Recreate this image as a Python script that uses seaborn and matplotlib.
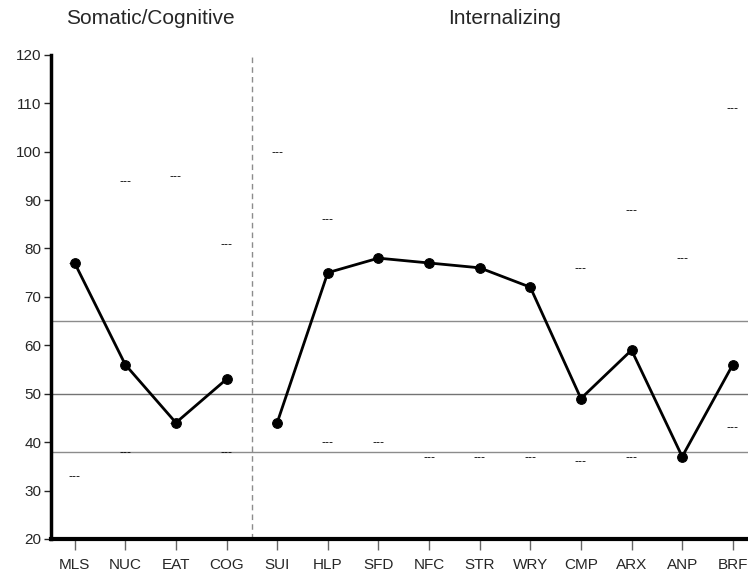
import numpy as np
import pandas as pd
import matplotlib
matplotlib.use("Agg")
import matplotlib.pyplot as plt
import seaborn as sns

# escalas y valores
escalas = ["MLS", "NUC", "EAT", "COG", "SUI", "HLP", "SFD", "NFC", "STR", "WRY",
           "CMP", "ARX", "ANP", "BRF"]
grupo = ["Somatic/Cognitive"] * 4 + ["Internalizing"] * 10
puntaje = [77, 56, 44, 53, 44, 75, 78, 77, 76, 72, 49, 59, 37, 56]
limite_sup = [77, 94, 95, 81, 100, 86, 78, 77, 76, 72, 76, 88, 78, 109]
limite_inf = [33, 38, 44, 38, 44, 40, 40, 37, 37, 37, 36, 37, 37, 43]
lineas_ref = [65, 50, 38]

df = pd.DataFrame({"escala": escalas, "grupo": grupo, "puntaje": puntaje,
                   "x": np.arange(len(escalas))})

sns.set_style("white")
plt.rcParams["font.family"] = ["Liberation Sans", "DejaVu Sans"]

fig = plt.figure(figsize=(7.48, 5.77), dpi=100)
ax = fig.add_axes([0.068, 0.066, 0.932, 0.839])

# lineas de referencia
for v in lineas_ref:
    ax.axhline(v, color="0.45" if v == 50 else "0.55", lw=1, zorder=1)
ax.axvline(3.5, color="0.55", lw=1, ls=(0, (4, 3)), zorder=1)

# limites superior / inferior como texto "---"
for i in range(len(escalas)):
    for v in (limite_sup[i], limite_inf[i]):
        ax.text(i, v, "---", ha="center", va="center", fontsize=8,
                family="DejaVu Sans", color="black", zorder=2)

sns.lineplot(data=df, x="x", y="puntaje", hue="grupo",
             palette={"Somatic/Cognitive": "black", "Internalizing": "black"},
             marker="o", markersize=7, markeredgecolor="black", lw=2,
             legend=False, ax=ax, zorder=3)

ax.set_xlim(-0.47, 13.3)
ax.set_ylim(20, 120)
ax.set_yticks(range(20, 121, 10))
ax.set_xticks(df["x"])
ax.set_xticklabels(escalas)
ax.set_xlabel("")
ax.set_ylabel("")
ax.tick_params(axis="y", direction="out", length=5, width=1, labelsize=11, pad=2)
ax.tick_params(axis="x", direction="out", length=8, width=1, labelsize=11, pad=6,
               color="0.4")
ax.tick_params(left=True, bottom=True)

for s in ("top", "right"):
    ax.spines[s].set_visible(False)
ax.spines["left"].set_linewidth(2.5)
ax.spines["bottom"].set_linewidth(3)
ax.spines["left"].set_color("black")
ax.spines["bottom"].set_color("black")

ax.text(1.5, 1.075, "Somatic/Cognitive", transform=ax.get_xaxis_transform(),
        ha="center", va="center", fontsize=15)
ax.text(8.5, 1.075, "Internalizing", transform=ax.get_xaxis_transform(),
        ha="center", va="center", fontsize=15)

fig.savefig("out.png", dpi=100)
